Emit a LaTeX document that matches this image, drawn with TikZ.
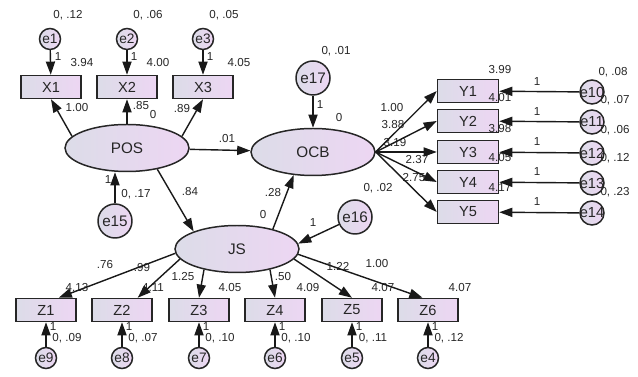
\documentclass[tikz,border=0pt]{standalone}
\usepackage{fontspec}
\setmainfont{Liberation Sans}
\usetikzlibrary{shapes.geometric,arrows.meta}
\definecolor{fillL}{HTML}{DCDCE8}
\definecolor{fillR}{HTML}{EDD6F3}
\definecolor{txt}{HTML}{262626}
\tikzset{
 box/.style={draw=black!85, line width=0.85pt, rectangle, minimum width=1.2cm, minimum height=0.46cm, inner sep=0pt, left color=fillL, right color=fillR, text=txt, font=\fontsize{8.3}{9}\selectfont},
 lat/.style={draw=black!85, line width=0.85pt, ellipse, minimum width=2.48cm, minimum height=0.94cm, inner sep=0pt, left color=fillL, right color=fillR, text=txt, font=\fontsize{8.7}{10}\selectfont},
 errs/.style={draw=black!85, line width=0.85pt, circle, minimum size=0.42cm, inner sep=0pt, left color=fillL, right color=fillR, text=txt, font=\fontsize{7.8}{9}\selectfont},
 errl/.style={errs, minimum size=0.68cm, font=\fontsize{8.7}{10}\selectfont},
 errm/.style={errs, minimum size=0.48cm},
 errtext/.style={text=txt, font=\fontsize{8.3}{9}\selectfont, inner sep=0pt},
 lab/.style={text=txt, font=\fontsize{6.6}{7}\selectfont, inner sep=0pt},
 conn/.style={-{Triangle[length=7.5pt,width=5.2pt]}, line width=0.8pt, draw=black!90},
}
\begin{document}
\begin{tikzpicture}[x=0.02cm,y=-0.02cm]
\useasboundingbox (0,0) rectangle (638,377);
% top indicators
\node[errs] (e1) at (50,39) {e1};
\node[errs] (e2) at (127,39) {e2};
\node[errs] (e3) at (203,39) {e3};
\node[box] (X1) at (51,87) {X1};
\node[box] (X2) at (127,87) {X2};
\node[box] (X3) at (203,87) {X3};
% latents
\node[lat] (POS) at (127,148) {POS};
\node[lat] (OCB) at (313,152) {OCB};
\node[lat] (JS) at (237,249) {JS};
\node[errl] (e15) at (115,221) {e15};
\node[errl] (e17) at (313,78) {e17};
\node[errl] (e16) at (355,217) {e16};
% Y indicators
\foreach \i/\y/\e in {1/91/10,2/121/11,3/152/12,4/182/13,5/212/14}{
  \node[box, minimum width=1.22cm] (Y\i) at (468,\y) {Y\i};
  \node[errm, label={[errtext]center:e\e}] (e\e) at (592,\y+1) {};
}
% Z indicators
\foreach \i/\x/\e in {1/46/9,2/122/8,3/199/7,4/275/6,5/352/5,6/428/4}{
  \node[box] (Z\i) at (\x,310) {Z\i};
  \node[errs] (e\e) at (\x,358) {e\e};
}
% labels
\node[lab] (v1) at (68,15) {0, .12};
\node[lab] (v2) at (148,15) {0, .06};
\node[lab] (v3) at (224,15) {0, .05};
\node[lab] (o1) at (58,57) {1};
\node[lab] (o2) at (134,57) {1};
\node[lab] (o3) at (210,57) {1};
\node[lab] (i1) at (82,63) {3.94};
\node[lab] (i2) at (158,63) {4.00};
\node[lab] (i3) at (239,63) {4.05};
\node[lab] (w1) at (77,108) {1.00};
\node[lab] (w2) at (141,106) {.85};
\node[lab] (m1) at (153,115) {0};
\node[lab] (w3) at (182,109) {.89};
\node[lab] (p1) at (227,139) {.01};
\node[lab] (o15) at (108,180) {1};
\node[lab] (v15) at (136,194) {0, .17};
\node[lab] (p2) at (190,192) {.84};
\node[lab] (v17) at (336,51) {0, .01};
\node[lab] (o17) at (320,105) {1};
\node[lab] (m2) at (339,118) {0};
\node[lab] (y1) at (392,108) {1.00};
\node[lab] (y2) at (393,125) {3.88};
\node[lab] (y3) at (395,143) {3.19};
\node[lab] (y4) at (417,160) {2.37};
\node[lab] (y5) at (414,178) {2.75};
\node[lab] (v16) at (378,188) {0, .02};
\node[lab] (p3) at (273,193) {.28};
\node[lab] (m3) at (263,215) {0};
\node[lab] (o16) at (313,223) {1};
\node[lab] (iy1) at (500,70) {3.99};
\node[lab] (iy2) at (500,98) {4.01};
\node[lab] (iy3) at (500,129) {3.98};
\node[lab] (iy4) at (500,158) {4.05};
\node[lab] (iy5) at (500,188) {4.17};
\foreach \y [count=\k] in {82,112,142,172,202}{\node[lab] (oy\k) at (537,\y) {1};}
\node[lab] (vy1) at (613,72) {0, .08};
\node[lab] (vy2) at (615,100) {0, .07};
\node[lab] (vy3) at (615,130) {0, .06};
\node[lab] (vy4) at (615,158) {0, .12};
\node[lab] (vy5) at (615,192) {0, .23};
\node[lab] (z1) at (105,265) {.76};
\node[lab] (z2) at (142,268) {.99};
\node[lab] (z3) at (183,277) {1.25};
\node[lab] (z4) at (283,277) {.50};
\node[lab] (z5) at (338,266) {1.22};
\node[lab] (z6) at (377,264) {1.00};
\foreach \x/\t [count=\k] in {77/4.13,153/4.11,230/4.05,308/4.09,383/4.07,460/4.07}{\node[lab] (iz\k) at (\x,288) {\t};}
\foreach \x/\t [count=\k] in {46/.09,122/.07,199/.10,275/.10,352/.11,428/.12}{
  \node[lab] (oz\k) at (\x+7,327) {1};
  \node[lab] (vz\k) at (\x+21,338) {0, \t};
}
% connectors
\draw[conn] (e1) -- (X1);
\draw[conn] (e2) -- (X2);
\draw[conn] (e3) -- (X3);
\draw[conn] (POS.168) -- (X1.south);
\draw[conn] (POS) -- (X2);
\draw[conn] (POS.12) -- (X3.south);
\draw[conn] (e15) -- (e15 |- POS.south);
\draw[conn] (POS) -- (OCB);
\draw[conn] (POS.-35) -- (JS.158);
\draw[conn] (e17) -- (OCB);
\draw[conn] (JS.29) -- (OCB.-130);
\draw[conn] (e16) -- (JS.5);
\foreach \i in {1,...,5}{\draw[conn] (OCB.east) -- (Y\i.west);}
\foreach \i/\e in {1/10,2/11,3/12,4/13,5/14}{\draw[conn] (e\e) -- (Y\i);}
\draw[conn] (JS.184) -- (Z1.44);
\draw[conn] (JS.190) -- (Z2.38);
\draw[conn] (JS.212) -- (Z3.north);
\draw[conn] (JS.-32) -- (Z4.north);
\draw[conn] (JS.-10) -- (Z5.north);
\draw[conn] (JS.-5) -- (Z6.114);
\foreach \i/\e in {1/9,2/8,3/7,4/6,5/5,6/4}{\draw[conn] (e\e) -- (Z\i);}
\end{tikzpicture}
\end{document}
